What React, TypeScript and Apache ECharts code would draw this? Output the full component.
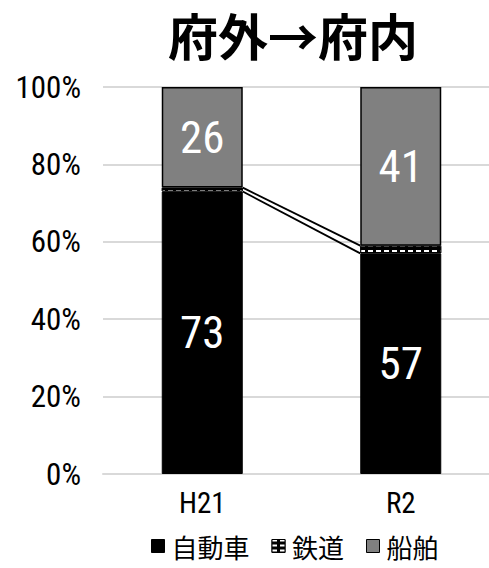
import React, { useEffect, useRef } from "react";
import * as echarts from "echarts";

// Modal share of freight flowing from outside the prefecture into it (%)
const categories = ["H21", "R2"];
const seriesNames = ["自動車", "鉄道", "船舶"];
const automobile = [73, 57];
const railway = [1, 2];
const shipping = [26, 41];
const yTicks = [0, 20, 40, 60, 80, 100];

const NUM_FONT = "'Roboto Condensed', 'DejaVu Sans Condensed', sans-serif";
const CJK_FONT = "'Noto Sans CJK JP', 'Noto Sans', sans-serif";
const BAR_WIDTH = 81;

export default function App() {
  const ref = useRef<HTMLDivElement>(null);

  useEffect(() => {
    if (!ref.current) return;
    const chart = echarts.init(ref.current, null, { renderer: "svg" });

    // cumulative tops of the lower two segments, used for the connector lines
    const autoTop = automobile.map((v) => v);
    const railTop = automobile.map((v, i) => v + railway[i]);
    const connectorData = categories.map((_, i) => [i, autoTop[i], railTop[i]]);

    const valueLabel = {
      show: true,
      position: "inside" as const,
      color: "#fff",
      fontFamily: NUM_FONT,
      fontSize: 45,
    };

    chart.setOption({
      animation: false,
      backgroundColor: "#fff",
      title: {
        text: "府外→府内",
        left: 163,
        top: 3,
        textStyle: {
          fontFamily: CJK_FONT,
          fontWeight: "bold",
          fontSize: 50,
          lineHeight: 52,
          color: "#000",
        },
      },
      legend: {
        bottom: 4,
        left: 146,
        icon: "rect",
        itemWidth: 13,
        itemHeight: 13,
        itemGap: 22,
        data: seriesNames,
        itemStyle: { borderColor: "#000", borderWidth: 1 },
        textStyle: { fontFamily: CJK_FONT, fontSize: 26, color: "#000", padding: [0, 0, 0, 2] },
      },
      grid: {
        left: 103,
        top: 87,
        width: 397,
        height: 387,
        containLabel: false,
        outerBoundsMode: "none",
      },
      xAxis: {
        type: "category",
        data: categories,
        axisLine: { show: true, lineStyle: { color: "#d9d9d9", width: 2 } },
        axisTick: { show: false },
        axisLabel: { fontFamily: NUM_FONT, fontSize: 29, color: "#000", margin: 14 },
      },
      yAxis: {
        type: "value",
        min: yTicks[0],
        max: yTicks[yTicks.length - 1],
        interval: 20,
        axisLine: { show: false },
        axisTick: { show: false },
        splitLine: { lineStyle: { color: "#d9d9d9", width: 2 } },
        axisLabel: {
          fontFamily: NUM_FONT,
          fontSize: 31,
          color: "#000",
          margin: 22,
          formatter: (v: number) => `${v}%`,
        },
      },
      series: [
        {
          name: seriesNames[0],
          type: "bar",
          stack: "share",
          barWidth: BAR_WIDTH,
          data: automobile,
          itemStyle: { color: "#000", borderColor: "#000", borderWidth: 1 },
          label: valueLabel,
        },
        {
          name: seriesNames[1],
          type: "bar",
          stack: "share",
          barWidth: BAR_WIDTH,
          data: railway,
          itemStyle: {
            color: "#000",
            borderColor: "#000",
            borderWidth: 1,
            decal: {
              color: "#fff",
              symbol: "rect",
              symbolSize: 1,
              dashArrayX: [5, 3],
              dashArrayY: [2, 3],
              rotation: 0,
            },
          },
          label: { show: false },
        },
        {
          name: seriesNames[2],
          type: "bar",
          stack: "share",
          barWidth: BAR_WIDTH,
          data: shipping,
          itemStyle: { color: "#808080", borderColor: "#000", borderWidth: 1.5 },
          label: valueLabel,
        },
        {
          // series lines joining segment boundaries of neighbouring bars
          type: "custom",
          silent: true,
          z: 5,
          data: connectorData,
          renderItem: (params: any, api: any) => {
            const i = api.value(0);
            if (i >= categories.length - 1) return null;
            const children: any[] = [];
            for (const dim of [1, 2]) {
              const a = api.coord([i, api.value(dim)]);
              const b = api.coord([i + 1, connectorData[i + 1][dim]]);
              children.push({
                type: "line",
                shape: {
                  x1: a[0] + BAR_WIDTH / 2,
                  y1: a[1],
                  x2: b[0] - BAR_WIDTH / 2,
                  y2: b[1],
                },
                style: { stroke: "#000", lineWidth: 1.8 },
              });
            }
            return { type: "group", children };
          },
        },
      ],
    });

    return () => chart.dispose();
  }, []);

  return (
    <div
      ref={ref}
      style={{ position: "absolute", left: 0, top: 0, width: 489, height: 568 }}
    />
  );
}
